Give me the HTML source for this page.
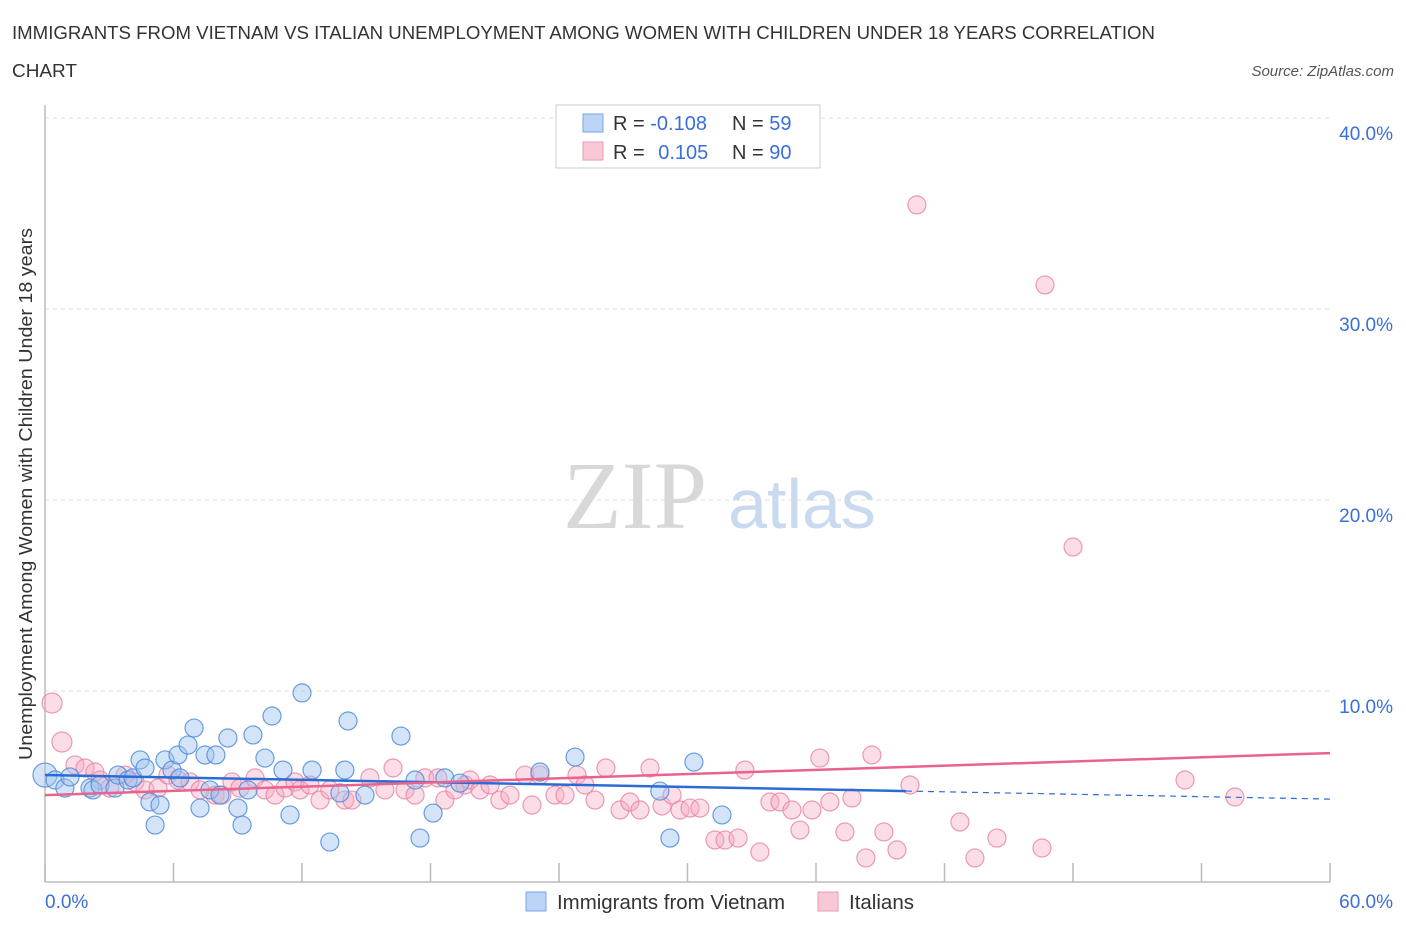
<!DOCTYPE html>
<html><head><meta charset="utf-8"><style>
body{margin:0;background:#fff;font-family:"Liberation Sans",sans-serif;}
svg{display:block}
</style></head><body>
<svg width="1406" height="930" xmlns="http://www.w3.org/2000/svg">
<text x="12" y="39" font-size="18" fill="#333" textLength="1143" lengthAdjust="spacingAndGlyphs">IMMIGRANTS FROM VIETNAM VS ITALIAN UNEMPLOYMENT AMONG WOMEN WITH CHILDREN UNDER 18 YEARS CORRELATION</text>
<text x="12" y="77" font-size="18" fill="#333" textLength="65" lengthAdjust="spacingAndGlyphs">CHART</text>
<text x="1394" y="76" font-size="15" fill="#555" font-style="italic" text-anchor="end">Source: ZipAtlas.com</text>
<text x="635" y="528" font-size="96" fill="#d8d8d8" font-family="Liberation Serif, serif" text-anchor="middle">ZIP</text>
<text x="802" y="528" font-size="70" fill="#c9daf0" text-anchor="middle">atlas</text>
<g id="grid"></g>
<g id="axes"></g>
<g id="marks"></g>
<text x="32" y="494" font-size="18" fill="#333" text-anchor="middle" textLength="532" lengthAdjust="spacingAndGlyphs" transform="rotate(-90 32 494)">Unemployment Among Women with Children Under 18 years</text>
<g>
<rect x="556" y="105" width="264" height="63" fill="#fff" stroke="#ccc"/>
<rect x="583" y="114" width="20" height="18" fill="#bcd4f5" stroke="#7aa6e6"/>
<rect x="583" y="142" width="20" height="18" fill="#f8c8d6" stroke="#ec9ab2"/>
<text x="613" y="130" font-size="20" fill="#333">R = <tspan fill="#3a6fd8">-0.108</tspan></text>
<text x="732" y="130" font-size="20" fill="#333">N = <tspan fill="#3a6fd8">59</tspan></text>
<text x="613" y="159" font-size="20" fill="#333">R = <tspan fill="#3a6fd8" dx="8">0.105</tspan></text>
<text x="732" y="159" font-size="20" fill="#333">N = <tspan fill="#3a6fd8">90</tspan></text>
</g>
<g>
<rect x="526" y="892" width="20" height="19" fill="#bcd4f5" stroke="#7aa6e6"/>
<text x="557" y="909" font-size="20" fill="#333" textLength="228" lengthAdjust="spacingAndGlyphs">Immigrants from Vietnam</text>
<rect x="818" y="892" width="20" height="19" fill="#f8c8d6" stroke="#ec9ab2"/>
<text x="849" y="909" font-size="20" fill="#333" textLength="65" lengthAdjust="spacingAndGlyphs">Italians</text>
</g>
</svg>
<script>
const yTicks=[10,20,30,40];
const yTickLabels=["10.0%","20.0%","30.0%","40.0%"];
const xTicks=[0,6,12,18,24,30,36,42,48,54,60];
const blueX=[0,0.47,0.93,1.17,2.1,2.24,2.57,3.27,3.41,3.88,4.11,4.44,4.67,4.9,5.14,5.37,5.6,5.93,6.21,6.3,6.68,6.96,7.24,7.47,7.7,7.98,8.17,8.54,9.01,9.2,9.48,9.71,10.27,10.6,11.11,11.44,12.0,12.47,13.3,13.77,14.0,14.15,14.94,16.62,17.28,17.51,18.12,18.67,19.37,23.11,24.75,28.71,29.18,30.3,31.61];
const blueY=[5.6,5.34,4.92,5.5,4.92,4.82,5.08,4.92,5.6,5.34,5.45,6.39,5.97,4.19,2.98,4.03,6.39,5.86,6.65,5.45,7.17,8.06,3.87,6.65,4.82,6.65,4.55,7.54,3.87,2.98,4.82,7.7,6.49,8.69,5.86,3.51,9.9,5.86,2.09,4.66,5.86,8.43,4.55,7.64,5.34,2.3,3.61,5.45,5.18,5.76,6.54,4.76,2.3,6.28,3.51];
const pinkX=[0.33,0.79,1.4,1.87,2.33,2.57,3.03,3.74,4.2,4.67,5.28,5.74,6.21,6.77,7.24,7.94,8.26,8.73,9.1,9.81,10.27,10.74,11.21,11.67,11.91,12.37,12.84,13.3,14.0,14.33,15.17,15.87,16.25,16.81,17.28,17.74,18.35,18.67,19.14,19.61,19.84,20.31,20.78,21.24,21.71,22.41,22.74,23.11,23.81,24.28,24.84,25.21,25.68,26.19,26.85,27.31,27.78,28.25,28.81,29.28,29.65,30.12,30.58,31.28,31.75,32.36,32.68,33.38,33.85,34.32,34.88,35.25,35.81,36.18,36.65,37.35,37.68,38.33,38.61,39.17,39.78,40.39,42.72,43.42,44.45,46.55,53.23,55.56,40.71,46.69,48.0];
const pinkY=[9.37,7.33,6.13,5.97,5.76,5.34,4.92,5.6,5.24,4.82,4.92,5.6,5.34,5.24,4.82,4.55,4.55,5.24,4.92,5.45,4.82,4.55,4.92,5.24,4.82,5.08,4.29,4.82,4.29,4.29,5.45,4.82,5.97,4.82,4.55,5.45,5.45,4.29,4.82,5.08,5.34,4.82,5.08,4.29,4.55,5.6,4.03,5.6,4.55,4.55,5.6,5.08,4.29,5.97,3.77,4.19,3.77,5.97,3.98,4.55,3.77,3.87,3.87,2.2,2.2,2.3,5.86,1.57,4.19,4.19,3.77,2.72,3.77,6.49,4.19,2.62,4.4,1.26,6.65,2.62,1.68,5.08,3.14,1.26,2.3,1.78,5.34,4.45,35.45,31.26,17.54];
const blueTrend=[5.6,4.76,4.34];
const blueTrendX=[0,40.2,60];
const pinkTrend=[4.55,6.75];
const NS="http://www.w3.org/2000/svg";
const sx=v=>45+v/60*1285;
const sy=v=>882-v*19.1;
function mk(tag,attrs,parent){const e=document.createElementNS(NS,tag);for(const k in attrs)e.setAttribute(k,attrs[k]);document.getElementById(parent).appendChild(e);return e;}
yTicks.forEach((t,i)=>{
 const l=mk('line',{x1:45,x2:1330,y1:sy(t),y2:sy(t),stroke:'#ddd','stroke-dasharray':'4,4'},'grid');
 
 
 const tx=mk('text',{x:1393,y:sy(t)+22,'font-size':19,fill:'#3a6fd8','text-anchor':'end'},'grid');
 tx.textContent=yTickLabels[i];
 
 
});
const ax=mk('line',{x1:45,x2:1330,y1:882,y2:882,stroke:'#bbb','stroke-width':1.5},'axes');


const ay=mk('line',{x1:45,x2:45,y1:105,y2:882,stroke:'#bbb','stroke-width':1.5},'axes');


xTicks.forEach(t=>{
 const l=mk('line',{x1:sx(t),x2:sx(t),y1:863,y2:882,stroke:'#bbb','stroke-width':1.5},'axes');
 
 
});
const xl0=mk('text',{x:45,y:908,'font-size':19,fill:'#3a6fd8'},'axes');xl0.textContent='0.0%';


const xl1=mk('text',{x:1393,y:908,'font-size':19,fill:'#3a6fd8','text-anchor':'end'},'axes');xl1.textContent='60.0%';


pinkX.forEach((x,i)=>{
 const c=mk('circle',{cx:sx(x),cy:sy(pinkY[i]),r:i<2?10:9,fill:'rgba(246,170,195,0.4)',stroke:'rgba(232,130,160,0.8)','stroke-width':1.2},'marks');
 
 
});
blueX.forEach((x,i)=>{
 const c=mk('circle',{cx:sx(x),cy:sy(blueY[i]),r:i==0?12:9,fill:'rgba(160,196,240,0.45)',stroke:'rgba(80,140,220,0.85)','stroke-width':1.2},'marks');
 
 
});
const bt=mk('line',{x1:sx(blueTrendX[0]),y1:sy(blueTrend[0]),x2:sx(blueTrendX[1]),y2:sy(blueTrend[1]),stroke:'#2b6cd4','stroke-width':2.5},'marks');


const bd=mk('line',{x1:sx(blueTrendX[1]),y1:sy(blueTrend[1]),x2:sx(blueTrendX[2]),y2:sy(blueTrend[2]),stroke:'#2b6cd4','stroke-width':1.2,'stroke-dasharray':'6,5'},'marks');


const pt=mk('line',{x1:sx(0),y1:sy(pinkTrend[0]),x2:sx(60),y2:sy(pinkTrend[1]),stroke:'#e8648e','stroke-width':2.5},'marks');


</script>
</body></html>
